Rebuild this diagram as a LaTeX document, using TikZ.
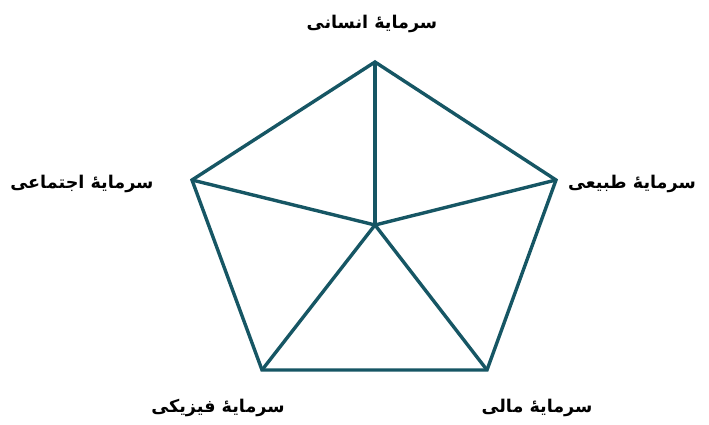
\documentclass[tikz,border=0pt]{standalone}
\usepackage{fontspec}
\usepackage{tikz}
\usetikzlibrary{positioning}
\TeXXeTstate=1
\newfontfamily\arabicfont[Script=Arabic]{DejaVu Sans}
\definecolor{captl}{RGB}{22,86,100}

\begin{document}
\begin{tikzpicture}[
  x=0.03cm, y=-0.03cm,
  edge/.style={draw=captl, line width=2.9pt, line join=miter},
  label/.style={font=\arabicfont\bfseries\fontsize{15}{18}\selectfont, inner sep=1pt}
]
\useasboundingbox (0,0) rectangle (709,424);

% Corners of the pentagon
\coordinate (hub) at (375,225);
\node[inner sep=0pt] (human) at (375,62) {};
\node[inner sep=0pt] (natural) at (556,180) {};
\node[inner sep=0pt] (financial) at (487,370) {};
\node[inner sep=0pt] (physical) at (262,370) {};
\node[inner sep=0pt] (social) at (192,180) {};

% Outline
\draw[edge] (human.center) -- (natural.center) -- (financial.center) -- (physical.center) -- (social.center) -- cycle;

% Spokes
\draw[edge] (hub) -- (human.center);
\draw[edge] (hub) -- (natural.center);
\draw[edge] (hub) -- (financial.center);
\draw[edge] (hub) -- (physical.center);
\draw[edge] (hub) -- (social.center);

% Labels
\node[label] (humanlbl) at (372,24) {\beginR سرمایهٔ انسانی\endR};
\node[label] (naturallbl) at (632,184) {\beginR سرمایهٔ طبیعی\endR};
\node[label] (financiallbl) at (537,408) {\beginR سرمایهٔ مالی\endR};
\node[label] (physicallbl) at (218,408) {\beginR سرمایهٔ فیزیکی\endR};
\node[label] (sociallbl) at (82,184) {\beginR سرمایهٔ اجتماعی\endR};

\end{tikzpicture}
\end{document}
